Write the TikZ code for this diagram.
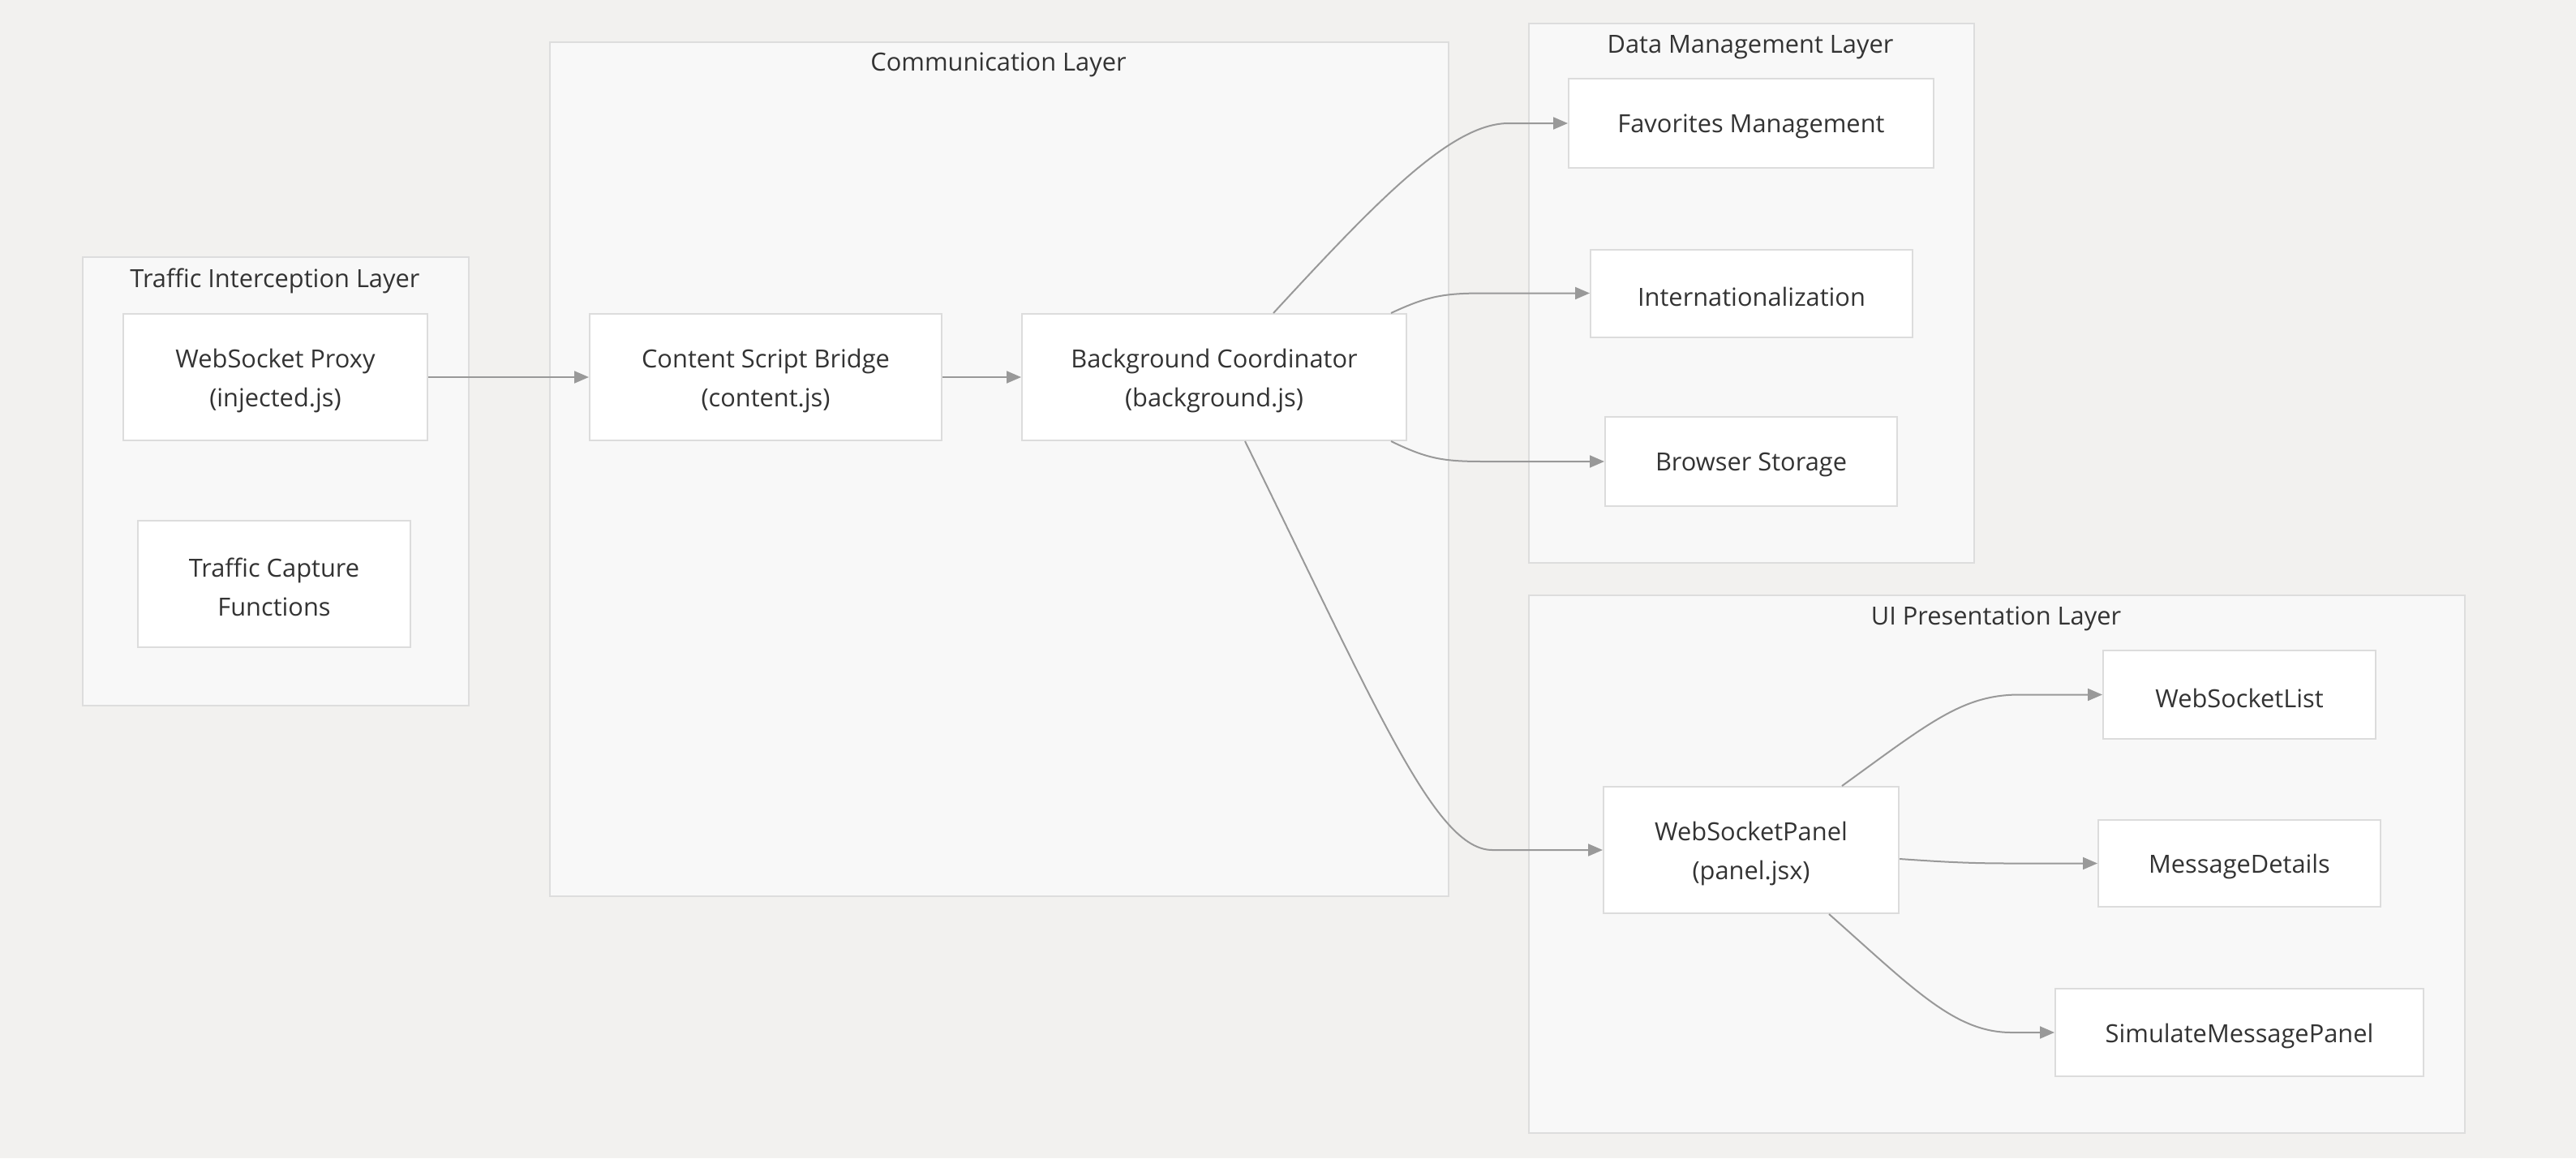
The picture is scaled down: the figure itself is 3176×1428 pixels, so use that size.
\documentclass[tikz,border=0pt]{standalone}
\usepackage{fontspec}
\setmainfont{Open Sans}
\usetikzlibrary{arrows.meta}
\definecolor{bgc}{HTML}{F2F1EF}
\definecolor{clfill}{HTML}{F8F8F8}
\definecolor{clline}{HTML}{DDDDDD}
\definecolor{ndline}{HTML}{DCDCDC}
\definecolor{edgec}{HTML}{999999}
\definecolor{txt}{HTML}{333333}
\newcommand{\lowr}[1]{\raisebox{-4pt}[\height][\depth]{#1}}
\tikzset{
 cluster/.style={draw=clline, fill=clfill, line width=2pt, inner sep=0pt, anchor=north west},
 box/.style={draw=ndline, fill=white, line width=2pt, inner sep=0pt, align=center, text=txt, font=\fontsize{30.8}{48}\selectfont},
 ctitle/.style={text=txt, font=\fontsize{30.8}{36}\selectfont, inner sep=0pt},
 flow/.style={draw=edgec, line width=2pt, -{Triangle[length=18pt,width=15pt]}},
}
\begin{document}
\begin{tikzpicture}[x=1pt,y=-1pt]
\useasboundingbox[fill=bgc] (0,0) rectangle (3176,1428);
% clusters
\node[cluster, minimum width=476pt, minimum height=553pt] (tlayer) at (101,316) {};
\node[ctitle] (tlayert) at (339,346) {Traffic Interception Layer};
\node[cluster, minimum width=1108pt, minimum height=1053pt] (clayer) at (677,51) {};
\node[ctitle] (clayert) at (1231,80) {Communication Layer};
\node[cluster, minimum width=549pt, minimum height=665pt] (dlayer) at (1884,28) {};
\node[ctitle] (dlayert) at (2158,58) {Data Management Layer};
\node[cluster, minimum width=1154pt, minimum height=663pt] (ulayer) at (1884,733) {};
\node[ctitle] (ulayert) at (2461,763) {UI Presentation Layer};
% nodes
\node[box, minimum width=375pt, minimum height=156pt] (proxy) at (339.5,465) {\lowr{WebSocket Proxy}\\\lowr{(injected.js)}};
\node[box, minimum width=336pt, minimum height=156pt] (capture) at (338,720) {\lowr{Traffic Capture}\\\lowr{Functions}};
\node[box, minimum width=434pt, minimum height=156pt] (bridge) at (944,465) {\lowr{Content Script Bridge}\\\lowr{(content.js)}};
\node[box, minimum width=474pt, minimum height=156pt] (bgnode) at (1497,465) {\lowr{Background Coordinator}\\\lowr{(background.js)}};
\node[box, minimum width=450pt, minimum height=110pt] (fav) at (2159,152) {\lowr{Favorites Management}};
\node[box, minimum width=397pt, minimum height=108pt] (intl) at (2159.5,361.5) {\lowr{Internationalization}};
\node[box, minimum width=360pt, minimum height=110pt] (stor) at (2159,569) {\lowr{Browser Storage}};
\node[box, minimum width=364pt, minimum height=156pt] (panel) at (2159,1048) {\lowr{WebSocketPanel}\\\lowr{(panel.jsx)}};
\node[box, minimum width=336pt, minimum height=109pt] (list) at (2761,856.5) {\lowr{WebSocketList}};
\node[box, minimum width=348pt, minimum height=107pt] (det) at (2761,1064.5) {\lowr{MessageDetails}};
\node[box, minimum width=454pt, minimum height=108pt] (sim) at (2761,1273) {\lowr{SimulateMessagePanel}};
% edges
\draw[flow] (proxy.east) -- (bridge.west);
\draw[flow] (bridge.east) -- (bgnode.west);
\draw[flow] ([xshift=73pt]bgnode.north) .. controls (1700,245) and (1790,152) .. (1860,152) -- (fav.west);
\draw[flow] ([xshift=-20pt]bgnode.north east) .. controls (1760,365) and (1780,361.5) .. (1830,361.5) -- (intl.west);
\draw[flow] ([xshift=-20pt]bgnode.south east) .. controls (1760,566) and (1780,569) .. (1830,569) -- (stor.west);
\draw[flow] ([xshift=38pt]bgnode.south) .. controls (1700,880) and (1770,1048) .. (1840,1048) -- (panel.west);
\draw[flow] ([xshift=112pt]panel.north) .. controls (2380,890) and (2420,856.5) .. (2490,856.5) -- (list.west);
\draw[flow] ([yshift=-11pt]panel.east) .. controls (2400,1063) and (2430,1064.5) .. (2480,1064.5) -- (det.west);
\draw[flow] ([xshift=96pt]panel.south) .. controls (2360,1220) and (2410,1273) .. (2480,1273) -- (sim.west);
\end{tikzpicture}
\end{document}
